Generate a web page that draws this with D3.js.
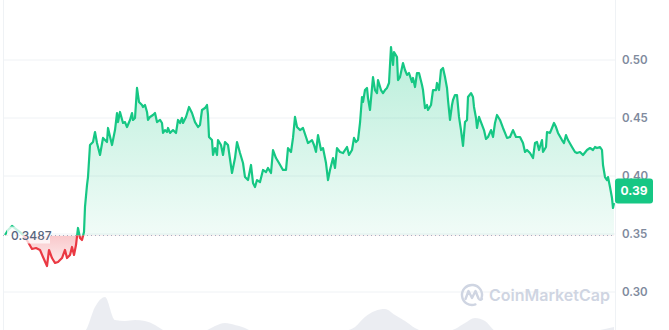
<html>
<head>
  <meta charset="UTF-8">
  <title>Price chart</title>
  <script src="https://d3js.org/d3.v7.min.js"></script>
  <style>
    body { margin: 0; background: #fff; }
    text { font-family: Inter, "Noto Sans", sans-serif; }
  </style>
</head>
<body>
  <svg id="chart" width="669" height="330"></svg>
  <script>
    /* Data */
    // [time step, price in USD]
    const pricePoints = [
      [0,0.3491],[3,0.3534],[7,0.3569],[11,0.3543],[15,0.3517],[19,0.3483],[23,0.3431],[27,0.3371],[31,0.3379],[35,0.3362],
      [38,0.3302],[42,0.3224],[44,0.3362],[47,0.3293],[50,0.3250],[53,0.3259],[57,0.3293],[60,0.3362],[62,0.3293],[65,0.3319],
      [67,0.3388],[69,0.3319],[71,0.3405],[73,0.3552],[75,0.3466],[77,0.3448],[79,0.3517],[80,0.3733],[82,0.3922],[83,0.3991],
      [85,0.4267],[88,0.4293],[90,0.4379],[92,0.4284],[95,0.4181],[98,0.4328],[102,0.4293],[103,0.4414],[107,0.4267],[110,0.4396],
      [112,0.4543],[113,0.4465],[115,0.4552],[118,0.4457],[120,0.4465],[122,0.4422],[125,0.4483],[127,0.4543],[128,0.4483],[130,0.4500],
      [132,0.4759],[134,0.4638],[137,0.4612],[138,0.4595],[140,0.4612],[142,0.4552],[143,0.4483],[145,0.4509],[148,0.4526],[150,0.4543],
      [152,0.4465],[155,0.4483],[157,0.4457],[158,0.4371],[160,0.4396],[162,0.4379],[163,0.4414],[165,0.4371],[168,0.4396],[171,0.4371],
      [173,0.4483],[175,0.4457],[177,0.4500],[178,0.4457],[181,0.4509],[184,0.4595],[187,0.4543],[190,0.4465],[193,0.4422],[195,0.4440],
      [197,0.4569],[200,0.4586],[202,0.4612],[203,0.4526],[204,0.4336],[207,0.4310],[208,0.4181],[210,0.4241],[212,0.4181],[213,0.4310],
      [216,0.4267],[218,0.4181],[220,0.4293],[223,0.4267],[227,0.4026],[230,0.4155],[232,0.4293],[235,0.4198],[238,0.4112],[240,0.3991],
      [243,0.3965],[246,0.4095],[248,0.3940],[250,0.3905],[252,0.3965],[255,0.3948],[258,0.4052],[261,0.4034],[263,0.4069],[266,0.4026],
      [268,0.4224],[271,0.4155],[274,0.4112],[278,0.4052],[281,0.4052],[283,0.4241],[286,0.4207],[288,0.4328],[290,0.4509],[292,0.4422],
      [295,0.4396],[298,0.4414],[301,0.4336],[303,0.4284],[307,0.4310],[309,0.4267],[311,0.4207],[313,0.4353],[316,0.4224],[318,0.4241],
      [321,0.4112],[323,0.3965],[325,0.4052],[328,0.4155],[330,0.4069],[332,0.4241],[335,0.4207],[338,0.4198],[342,0.4250],[344,0.4181],
      [347,0.4224],[349,0.4328],[351,0.4293],[353,0.4310],[355,0.4457],[357,0.4681],[358,0.4638],[360,0.4741],[362,0.4759],[363,0.4672],
      [365,0.4569],[368,0.4853],[370,0.4741],[372,0.4715],[373,0.4827],[376,0.4741],[378,0.4715],[380,0.4741],[382,0.4759],[384,0.4802],
      [386,0.5112],[388,0.4957],[389,0.5069],[392,0.5026],[393,0.4827],[395,0.4853],[398,0.4974],[400,0.4914],[402,0.4871],[404,0.4888],
      [407,0.4810],[408,0.4845],[410,0.4767],[412,0.4888],[414,0.4888],[417,0.4784],[418,0.4741],[420,0.4586],[422,0.4612],[423,0.4569],
      [426,0.4612],[428,0.4741],[431,0.4741],[432,0.4802],[434,0.4741],[436,0.4914],[438,0.4931],[440,0.4853],[442,0.4759],[443,0.4655],
      [445,0.4483],[447,0.4612],[448,0.4655],[450,0.4698],[452,0.4698],[454,0.4509],[456,0.4396],[458,0.4259],[460,0.4465],[462,0.4483],
      [463,0.4681],[466,0.4715],[468,0.4681],[469,0.4595],[471,0.4500],[472,0.4414],[474,0.4509],[477,0.4440],[479,0.4396],[481,0.4319],
      [483,0.4336],[486,0.4396],[488,0.4336],[490,0.4457],[492,0.4526],[495,0.4483],[498,0.4414],[500,0.4371],[502,0.4328],[505,0.4336],
      [508,0.4396],[511,0.4336],[515,0.4336],[518,0.4284],[520,0.4207],[522,0.4224],[525,0.4198],[528,0.4155],[530,0.4284],[532,0.4293],
      [534,0.4224],[537,0.4310],[538,0.4207],[541,0.4250],[542,0.4379],[545,0.4371],[547,0.4414],[549,0.4457],[551,0.4422],[553,0.4371],
      [557,0.4310],[559,0.4284],[561,0.4353],[563,0.4310],[567,0.4250],[570,0.4207],[572,0.4198],[575,0.4207],[578,0.4181],[582,0.4224],
      [585,0.4241],[588,0.4224],[590,0.4250],[592,0.4241],[595,0.4250],[597,0.4224],[598,0.4095],[600,0.3991],[602,0.3965],[603,0.3991],
      [605,0.3905],[607,0.3810],[608,0.3724],[609,0.3767]
    ];

    // [time step, volume in millions]
    const volumePoints = [
      [0,0.8],[10,0.8],[20,0.9],[30,1.0],[40,1.0],[50,0.9],[60,1.0],[70,1.1],[80,1.4],[90,3.8],
      [100,4.8],[110,2.5],[120,2.4],[130,2.5],[140,2.4],[150,2.0],[160,1.4],[170,1.2],[180,1.1],[190,1.2],
      [200,1.4],[210,1.9],[220,2.2],[230,2.0],[240,1.7],[250,1.2],[260,1.0],[270,1.1],[280,1.2],[290,1.3],
      [300,1.2],[310,1.1],[320,1.2],[330,1.3],[340,1.4],[350,1.8],[360,2.8],[370,3.4],[380,3.6],[390,3.0],
      [400,2.4],[410,1.7],[420,1.3],[430,1.2],[440,1.3],[450,1.6],[460,2.2],[470,2.7],[480,2.4],[490,1.4],
      [500,1.1],[510,1.0],[520,1.1],[530,1.2],[540,1.1],[550,1.0],[560,1.1],[570,1.2],[580,1.3],[590,1.4],
      [600,1.6],[609,1.8]
    ];

    const basePrice = 0.3487;
    const currentPrice = 0.387;
    const yTicks = [0.30, 0.35, 0.40, 0.45, 0.50];
    const brandName = "CoinMarketCap";

    /* Constants */
    const svg = d3.select("#chart");
    const width = +svg.attr("width");
    const height = +svg.attr("height");
    const plotLeft = 3;
    const plotRight = 615;
    const green = "#16c784";
    const red = "#ea3943";
    const gridColor = "#eff2f5";

    const xScale = d3.scaleLinear().domain([0, 609]).range([5, 614]);
    const yScale = d3.scaleLinear().domain([0.30, 0.50]).range([292, 60]);
    const vScale = d3.scaleLinear().domain([0, 4.8]).range([345, 297]);
    const yBase = yScale(basePrice);

    const defs = svg.append("defs");

    const gGrad = defs.append("linearGradient").attr("id", "gGrad")
      .attr("gradientUnits", "userSpaceOnUse")
      .attr("x1", 0).attr("x2", 0).attr("y1", yScale(0.51)).attr("y2", yBase);
    gGrad.append("stop").attr("offset", 0).attr("stop-color", green).attr("stop-opacity", 0.3);
    gGrad.append("stop").attr("offset", 1).attr("stop-color", green).attr("stop-opacity", 0.06);

    const rGrad = defs.append("linearGradient").attr("id", "rGrad")
      .attr("gradientUnits", "userSpaceOnUse")
      .attr("x1", 0).attr("x2", 0).attr("y1", yBase).attr("y2", yScale(0.32));
    rGrad.append("stop").attr("offset", 0).attr("stop-color", red).attr("stop-opacity", 0.28);
    rGrad.append("stop").attr("offset", 1).attr("stop-color", red).attr("stop-opacity", 0.06);

    defs.append("clipPath").attr("id", "above")
      .append("rect").attr("x", 0).attr("y", 0).attr("width", plotRight).attr("height", yBase);
    defs.append("clipPath").attr("id", "below")
      .append("rect").attr("x", 0).attr("y", yBase).attr("width", plotRight).attr("height", height - yBase);

    // grid
    svg.append("g").selectAll("line").data(yTicks).join("line")
      .attr("x1", plotLeft).attr("x2", plotRight)
      .attr("y1", d => yScale(d)).attr("y2", d => yScale(d))
      .attr("stroke", gridColor).attr("stroke-width", 1);
    svg.append("line").attr("x1", plotLeft + 0.5).attr("x2", plotLeft + 0.5).attr("y1", 0).attr("y2", height)
      .attr("stroke", gridColor);
    svg.append("line").attr("x1", plotRight + 0.5).attr("x2", plotRight + 0.5).attr("y1", 0).attr("y2", height)
      .attr("stroke", gridColor);

    // volume
    const volArea = d3.area()
      .x(d => xScale(d[0]))
      .y0(vScale(0))
      .y1(d => vScale(d[1]))
      .curve(d3.curveMonotoneX);
    svg.append("path").datum(volumePoints)
      .attr("d", volArea)
      .attr("fill", "#e7eaf0")
      .attr("opacity", 0.85);

    // watermark
    const wm = svg.append("g").attr("fill", "none").attr("stroke", "#cfd5e2").attr("stroke-width", 2.4)
      .attr("stroke-linecap", "round").attr("stroke-linejoin", "round");
    wm.append("path")
      .attr("d", "M481.4,298.4 A10,10 0 1 0 475.4,304.4");
    wm.append("path")
      .attr("d", "M465.5,299 L468.5,291 L472,298 L475.5,291 L478.5,298.5 Q480,301 482,299");
    svg.append("text")
      .attr("x", 489).attr("y", 301)
      .attr("font-size", 16).attr("font-weight", 600)
      .attr("fill", "#cfd5e2")
      .text(brandName);

    // price areas
    const area = d3.area()
      .x(d => xScale(d[0]))
      .y0(yBase)
      .y1(d => yScale(d[1]));
    svg.append("path").datum(pricePoints)
      .attr("d", area).attr("fill", "url(#gGrad)").attr("clip-path", "url(#above)");
    svg.append("path").datum(pricePoints)
      .attr("d", area).attr("fill", "url(#rGrad)").attr("clip-path", "url(#below)");

    // baseline
    svg.append("line")
      .attr("x1", plotLeft).attr("x2", plotRight)
      .attr("y1", yBase).attr("y2", yBase)
      .attr("stroke", "#a6b0c3").attr("stroke-width", 1)
      .attr("stroke-dasharray", "1,3");

    // price line
    const line = d3.line().x(d => xScale(d[0])).y(d => yScale(d[1]));
    svg.append("path").datum(pricePoints)
      .attr("d", line).attr("fill", "none").attr("stroke", green).attr("stroke-width", 2.2)
      .attr("stroke-linejoin", "round").attr("clip-path", "url(#above)");
    svg.append("path").datum(pricePoints)
      .attr("d", line).attr("fill", "none").attr("stroke", red).attr("stroke-width", 2.2)
      .attr("stroke-linejoin", "round").attr("clip-path", "url(#below)");

    // base price label
    svg.append("rect")
      .attr("x", 7).attr("y", yBase - 9).attr("width", 43).attr("height", 17)
      .attr("fill", "#fff").attr("opacity", 0.75);
    svg.append("text")
      .attr("x", 11).attr("y", yBase)
      .attr("dy", "0.35em")
      .attr("font-size", 12).attr("font-weight", 500)
      .attr("fill", "#58667e")
      .text(basePrice.toFixed(4));

    // y axis labels
    svg.append("g").selectAll("text").data(yTicks).join("text")
      .attr("x", 622).attr("y", d => yScale(d))
      .attr("dy", "0.35em")
      .attr("font-size", 11.5).attr("font-weight", 600)
      .attr("fill", "#808a9d")
      .text(d => d.toFixed(2));

    // current price tag
    const yCur = yScale(currentPrice);
    svg.append("rect")
      .attr("x", plotRight).attr("y", yCur - 12.5).attr("width", 38).attr("height", 25)
      .attr("rx", 3).attr("fill", green);
    svg.append("text")
      .attr("x", plotRight + 19).attr("y", yCur)
      .attr("dy", "0.35em").attr("text-anchor", "middle")
      .attr("font-size", 12).attr("font-weight", 700)
      .attr("fill", "#fff")
      .text(currentPrice.toFixed(2));
  </script>
</body>
</html>
